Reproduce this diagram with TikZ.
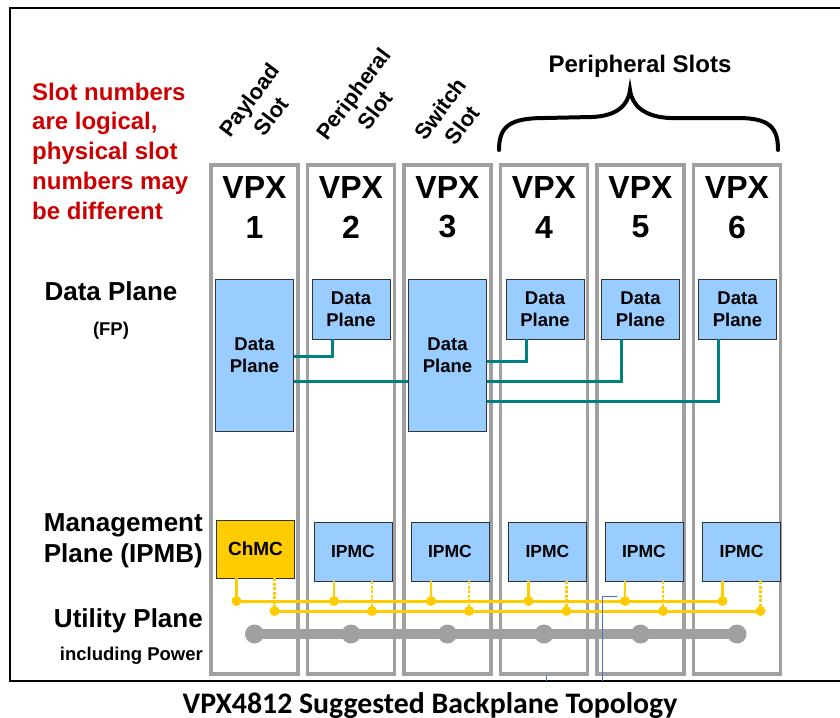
\documentclass[tikz,border=0pt]{standalone}
\usepackage{fontspec}
\setmainfont{Liberation Sans}
\newfontfamily\capfont{Carlito}
\definecolor{slotgray}{RGB}{160,160,160}
\definecolor{dpblue}{RGB}{153,204,255}
\definecolor{chmcyellow}{RGB}{255,204,0}
\definecolor{linkteal}{RGB}{0,128,128}
\definecolor{busyellow}{RGB}{255,204,0}
\definecolor{notered}{RGB}{204,0,0}
\definecolor{markblue}{RGB}{68,114,196}
\definecolor{boxedge}{RGB}{50,50,50}
\begin{document}
\begin{tikzpicture}[x=1pt,y=-1pt,
  slotbox/.style={draw=slotgray, line width=3.5pt, minimum width=87pt, minimum height=509pt, inner sep=0pt},
  vpx/.style={inner sep=0pt, font=\fontsize{32}{36}\selectfont\bfseries},
  dpbox/.style={draw=boxedge, fill=dpblue, line width=0.8pt, minimum width=78pt, inner sep=0pt, align=center,
    font=\fontsize{18.5}{22}\selectfont\bfseries},
  mbox/.style={draw=boxedge, line width=0.8pt, minimum width=78pt, minimum height=59pt, inner sep=0pt,
    font=\fontsize{17.5}{21}\selectfont\bfseries},
  dplink/.style={draw=linkteal, line width=3pt},
  stub/.style={draw=busyellow, line width=2.5pt},
  dstub/.style={draw=busyellow, line width=2.5pt, dash pattern=on 3pt off 1.5pt},
  bus/.style={draw=busyellow, line width=3pt},
  plane/.style={inner sep=0pt, font=\fontsize{26}{31}\selectfont\bfseries},
  subplane/.style={inner sep=0pt, font=\fontsize{18.5}{22}\selectfont\bfseries},
  slotname/.style={inner sep=0pt, rotate=53, align=center, font=\fontsize{22}{27}\selectfont\bfseries}]
\useasboundingbox (0,0) rectangle (840,717);

% outer frame (open on the right)
\draw[line width=2pt] (850,8) -- (10,8) -- (10,681) -- (850,681);

% slots
\foreach \i/\x in {1/254.5,2/351,3/447.5,4/544,5/640.5,6/737} {
  \node[slotbox] (slot\i) at (\x,419.5) {};
  \node[vpx] (vpx\i) at (\x,187) {VPX};
  \node[vpx] (num\i) at (\x,227) {\i};
}

% slot roles
\node[slotname] (role1) at (260,108) {Payload\\Slot};
\node[slotname] (role2) at (364,102) {Peripheral\\Slot};
\node[slotname] (role3) at (451,117) {Switch\\Slot};
\node[inner sep=0pt, anchor=base, font=\fontsize{24}{28}\selectfont\bfseries] (periph) at (640,73) {Peripheral Slots};
\draw[line width=4pt, line cap=round]
  (499,150) .. controls (499,126) and (510,118) .. (545,118) -- (592,117)
  .. controls (616,116) and (628,106) .. (630,90)
  .. controls (632,106) and (645,117) .. (670,118) -- (738,118)
  .. controls (770,118) and (778,128) .. (778,150);

% note (base anchor sits on the last line)
\node[inner sep=0pt, anchor=base west, align=left, text=notered, font=\fontsize{24}{29.7}\selectfont\bfseries] (note) at (32,219)
  {Slot numbers\\are logical,\\physical slot\\numbers may\\be different};

% plane labels
\node[plane, anchor=base] (lbldata) at (111,300) {Data Plane};
\node[subplane, anchor=base] (lblfp) at (111,335) {(FP)};
\node[plane, anchor=base east, align=right] (lblmgmt) at (203,562) {Management\\Plane (IPMB)};
\node[plane, anchor=base east] (lblutil) at (203,627) {Utility Plane};
\node[subplane, anchor=base east] (lblpow) at (203,660) {including Power};

% data plane
\node[dpbox, minimum height=152pt] (dp1) at (254.5,355) {Data\\Plane};
\node[dpbox, minimum height=60pt] (dp2) at (351,309) {Data\\Plane};
\node[dpbox, minimum height=152pt] (dp3) at (447.5,355) {Data\\Plane};
\node[dpbox, minimum height=60pt] (dp4) at (545,309) {Data\\Plane};
\node[dpbox, minimum height=60pt] (dp5) at (640.5,309) {Data\\Plane};
\node[dpbox, minimum height=60pt] (dp6) at (737.5,309) {Data\\Plane};

\draw[dplink] ([yshift=-1pt]dp1.east) -| ([xshift=-19pt]dp2.south);
\draw[dplink] ([yshift=-26pt]dp1.east) -- ([yshift=-26pt]dp3.west);
\draw[dplink] ([yshift=-6pt]dp3.east) -| ([xshift=-19pt]dp4.south);
\draw[dplink] ([yshift=-26pt]dp3.east) -| ([xshift=-19.5pt]dp5.south);
\draw[dplink] ([yshift=-46pt]dp3.east) -| ([xshift=-19.5pt]dp6.south);

% management plane
\node[mbox, fill=chmcyellow, minimum height=58pt, font=\fontsize{19}{22}\selectfont\bfseries] (m1) at (255.5,549) {ChMC};
\node[mbox, fill=dpblue] (m2) at (353,551.5) {IPMC};
\node[mbox, fill=dpblue] (m3) at (450,551.5) {IPMC};
\node[mbox, fill=dpblue] (m4) at (547.5,551.5) {IPMC};
\node[mbox, fill=dpblue] (m5) at (644,551.5) {IPMC};
\node[mbox, fill=dpblue] (m6) at (741.5,551.5) {IPMC};

\coordinate (busA) at (0,601);
\coordinate (busB) at (0,611);
\coordinate (pwr) at (0,634);
\foreach \i in {1,...,6} {
  \coordinate (la\i) at ([xshift=-19pt]m\i.south);
  \coordinate (lb\i) at ([xshift=19pt]m\i.south);
}
\draw[bus] (la1 |- busA) -- (la6 |- busA);
\draw[bus] (lb1 |- busB) -- (lb6 |- busB);
\foreach \i in {1,...,6} {
  \draw[stub] (la\i) -- (la\i |- busA);
  \draw[dstub] (lb\i) -- (lb\i |- busB);
  \fill[busyellow] (la\i |- busA) circle (5pt);
  \fill[busyellow] (lb\i |- busB) circle (5pt);
}

% utility plane
\draw[slotgray, line width=10pt] (slot1 |- pwr) -- (slot6 |- pwr);
\foreach \i in {1,...,6} {
  \fill[slotgray] (slot\i |- pwr) circle (9.5pt);
}

% stray guide marks
\draw[markblue, line width=0.8pt] (617,596) -- (602,596) -- (602,681);
\draw[markblue, line width=0.8pt] (546,675) -- (546,681);

% caption
\node[inner sep=0pt, anchor=base, font=\capfont\bfseries\fontsize{29.8}{34}\selectfont] (caption) at (430,713)
  {VPX4812 Suggested Backplane Topology};
\end{tikzpicture}
\end{document}
